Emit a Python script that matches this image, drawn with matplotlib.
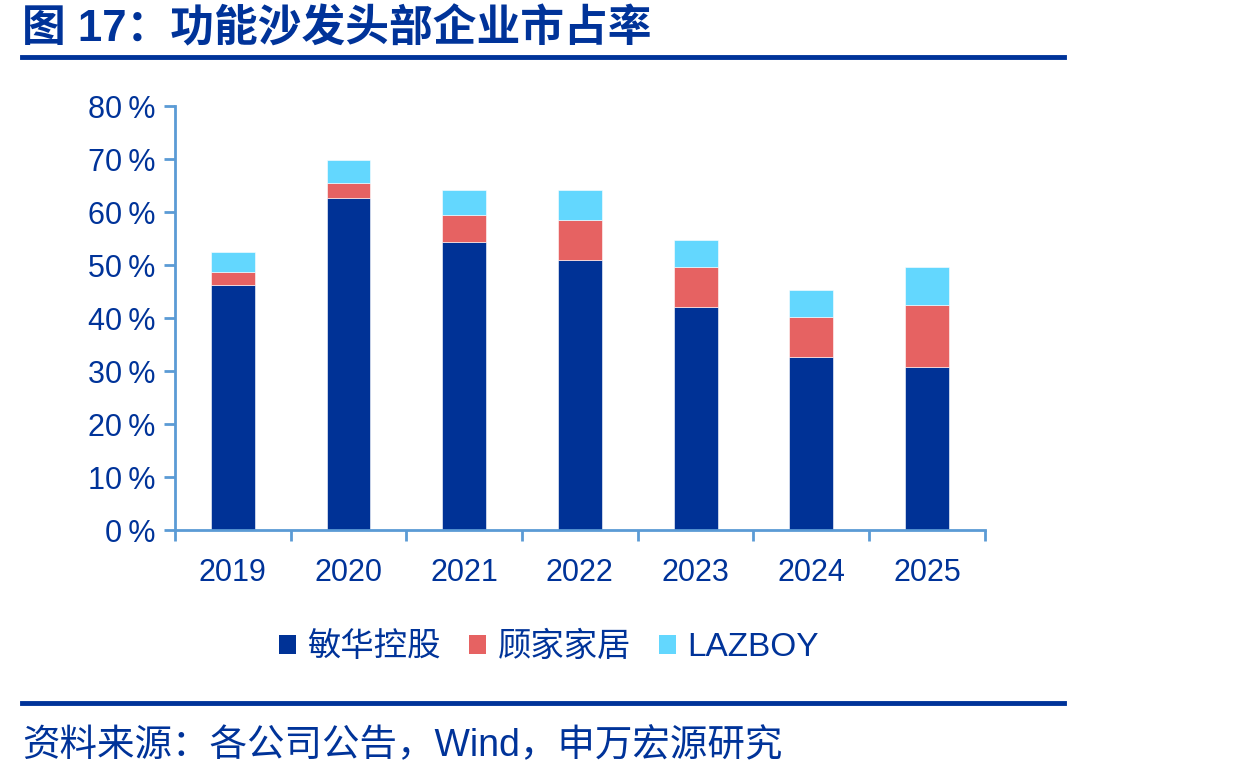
import numpy as np
import matplotlib
matplotlib.use("Agg")
import matplotlib.pyplot as plt
from matplotlib.patches import Patch
from matplotlib.ticker import FuncFormatter

plt.rcParams['font.family'] = ['Liberation Sans', 'Noto Sans CJK SC', 'DejaVu Sans']

years = ['2019', '2020', '2021', '2022', '2023', '2024', '2025']
series_names = ['敏华控股', '顾家家居', 'LAZBOY']
minhua = [46.3, 62.7, 54.3, 51.0, 42.1, 32.7, 30.8]
gujia = [2.3, 2.8, 5.1, 7.5, 7.5, 7.5, 11.7]
lazboy = [3.8, 4.3, 4.8, 5.7, 5.1, 5.1, 7.1]
yticks = [0, 10, 20, 30, 40, 50, 60, 70, 80]

colors = ['#003296', '#E66262', '#63D7FE']
txt_col = '#003399'
axis_col = '#5B9BD5'

fig = plt.figure(figsize=(12.34, 7.8), dpi=100)
ax = fig.add_axes([0.1418, 0.3205, 0.798 - 0.1418, 0.864 - 0.3205])

x = np.arange(len(years))
w = 0.38
bottom = np.zeros(len(years))
for vals, c in zip([minhua, gujia, lazboy], colors):
    ax.bar(x, vals, w, bottom=bottom, color=c, edgecolor='white', linewidth=0.4)
    bottom += np.array(vals)

ax.set_xlim(-0.5, len(years) - 0.5)
ax.set_ylim(0, 80)
ax.set_yticks(yticks)
ax.yaxis.set_major_formatter(FuncFormatter(lambda v, p: '%d\u2009%%' % v))
ax.set_xticks(x)
ax.set_xticklabels(years)
ax.set_xticks(np.arange(-0.5, len(years)), minor=True)
ax.tick_params(axis='x', which='major', length=0, pad=20, labelsize=22, labelcolor=txt_col)
ax.tick_params(axis='x', which='minor', length=8, width=2, color=axis_col, direction='out')
ax.tick_params(axis='y', length=8, width=2, color=axis_col, direction='out', pad=6,
               labelsize=22, labelcolor=txt_col)

for s in ['top', 'right']:
    ax.spines[s].set_visible(False)
for s in ['left', 'bottom']:
    ax.spines[s].set_color(axis_col)
    ax.spines[s].set_linewidth(2)

handles = [Patch(facecolor=c, edgecolor='none') for c in colors]
leg = fig.legend(handles, series_names, loc='center', bbox_to_anchor=(0.445, 0.17), ncol=3,
                 frameon=False, fontsize=24, handlelength=0.5, handleheight=0.5,
                 handletextpad=0.35, columnspacing=0.85)
for t in leg.get_texts():
    t.set_color(txt_col)

# title and source lines
fig.text(0.018, 0.962, '图 17：功能沙发头部企业市占率', fontsize=31.5, fontweight='bold',
         color=txt_col, va='center', ha='left', family=['Liberation Sans', 'Noto Sans CJK SC'])
fig.add_artist(plt.Line2D([0.018, 0.862], [0.927, 0.927], color='#003399', lw=3.5))
fig.add_artist(plt.Line2D([0.018, 0.862], [0.099, 0.099], color='#003399', lw=3.5))
fig.text(0.018, 0.043, '资料来源：各公司公告，Wind，申万宏源研究', fontsize=27,
         color=txt_col, va='center', ha='left')

fig.savefig('out.png', dpi=100, facecolor='white')
